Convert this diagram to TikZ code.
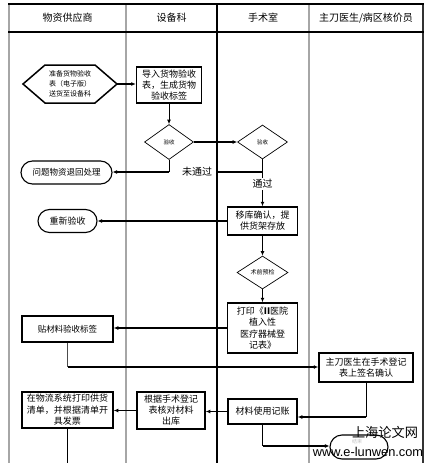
\documentclass[tikz,border=0pt]{standalone}
\usepackage{fontspec}
\setmainfont{Noto Sans CJK SC}
\newfontfamily\wmfont{Liberation Sans}
\usetikzlibrary{shapes.geometric,shapes.misc,arrows.meta,calc}
\begin{document}
\begin{tikzpicture}[x=1pt,y=-1pt,
  frame/.style={line width=1.2pt, draw=gray!70},
  box/.style={draw, line width=1.5pt, inner sep=0pt, align=center, font=\fontsize{9}{11}\selectfont},
  dia/.style={diamond, draw, line width=0.7pt, inner sep=0pt, font=\fontsize{5.5}{6}\selectfont},
  term/.style={rounded rectangle, draw, line width=1.1pt, inner sep=0pt, font=\fontsize{8.5}{10}\selectfont},
  hdr/.style={font=\fontsize{10}{12}\selectfont},
  hconn/.style={line width=1.8pt},
  vconn/.style={line width=1pt},
  tip/.style={-{Latex[length=4.5pt,width=4pt]}},
  lbl/.style={fill=white, inner sep=1pt, font=\fontsize{10}{12}\selectfont}
]
\useasboundingbox (0,0) rectangle (428,463);
% frame
\draw[frame] (9,4) -- (9,463);
\draw[frame] (126,4) -- (126,463);
\draw[line width=1.2pt] (217,4) -- (217,463);
\draw[frame] (309,4) -- (309,463);
\draw[line width=1.2pt, draw=gray!40!black] (423,4) -- (423,463);
\draw[line width=2pt] (8,4) -- (424,4);
\draw[line width=2pt] (8,32) -- (424,32);
% headers
\node[hdr] (h1) at (67.5,18) {物资供应商};
\node[hdr] (h2) at (171.5,18) {设备科};
\node[hdr] (h3) at (263,18) {手术室};
\node[hdr] (h4) at (366,18) {主刀医生/病区核价员};
% hexagon
\draw[line width=1.5pt] (23,84) -- (45,65) -- (95,65) -- (117,84) -- (95,103) -- (45,103) -- cycle;
\node[align=center, font=\fontsize{7}{10}\selectfont] (hex) at (70,84) {准备货物验收\\表（电子版）\\送货至设备科};
\coordinate (hexE) at (117,84);
% nodes
\node[box, minimum width=65pt, minimum height=36pt] (imp) at (169,85) {导入货物验收\\表，生成货物\\验收标签};
\node[dia, minimum width=49pt, minimum height=35pt] (d1) at (169,142) {验收};
\node[dia, minimum width=50pt, minimum height=34pt] (d2) at (262.5,142) {验收};
\node[term, minimum width=91pt, minimum height=23pt] (t1) at (66.5,172.5) {问题物资退回处理};
\node[box, minimum width=70pt, minimum height=28pt] (mv) at (262.5,221) {移库确认，提\\供货架存放};
\node[term, minimum width=59pt, minimum height=23pt, font=\fontsize{9}{11}\selectfont] (t2) at (67.5,221) {重新验收};
\node[dia, minimum width=51pt, minimum height=33pt, font=\fontsize{6}{7}\selectfont] (d3) at (262.5,272.5) {术前预检};
\node[box, minimum width=70pt, minimum height=50pt, font=\fontsize{9}{11.5}\selectfont] (prn) at (262.5,328) {打印《\textbf{II}医院\\植入性\\医疗器械登\\记表》};
\node[box, minimum width=91pt, minimum height=26pt, font=\fontsize{8.5}{10}\selectfont] (lab) at (67.5,329) {贴材料验收标签};
\node[box, minimum width=94pt, minimum height=29pt] (sig) at (366,367.5) {主刀医生在手术登记\\表上签名确认};
\node[box, minimum width=69pt, minimum height=25pt] (acc) at (262.5,411.5) {材料使用记账};
\node[box, minimum width=68pt, minimum height=37pt] (chk) at (171,410.5) {根据手术登记\\表核对材料\\出库};
\node[box, minimum width=91pt, minimum height=36pt, font=\fontsize{9}{11.5}\selectfont] (inv) at (67.5,410) {在物流系统打印供货\\清单，并根据清单开\\具发票};
\node[term, minimum width=58pt, minimum height=24pt] (t3) at (359,447) {};
\node[inner sep=0pt, text=gray!50, font=\fontsize{5}{6}\selectfont] (t3txt) at (357,441.5) {结束};
% connectors
\draw[hconn,tip] (hexE) -- (hexE -| imp.west);
\draw[vconn,tip] (imp.south) -- (d1.north);
\draw[hconn,tip] (d1.east) -- (d2.west);
\coordinate (j1) at (169,172);
\draw[vconn] (d1.south) -- (j1);
\draw[hconn,tip] (j1) -- (j1 -| t1.east);
\coordinate (j2) at (262.5,172);
\coordinate (j3) at (217,172);
\draw[hconn] (j2) -- (j3);
\draw[vconn,tip] (d2.south) -- (mv.north);
\node[lbl] (nt) at (197,172) {未通过};
\node[lbl] (ok) at (262.5,184) {通过};
\draw[hconn,tip] (mv.west) -- (mv.west -| t2.east);
\draw[vconn,tip] (mv.south) -- (d3.north);
\draw[vconn,tip] (d3.south) -- (prn.north);
\draw[hconn,tip] (prn.west) -- (prn.west -| lab.east);
\coordinate (j4) at (67.5,367);
\draw[vconn, draw=gray!60!black] (lab.south) -- (j4);
\draw[hconn,tip] (j4) -- (j4 -| sig.west);
\coordinate (j5) at (366,417);
\draw[vconn] (sig.south) -- (j5);
\draw[hconn,tip] (j5) -- (j5 -| acc.east);
\draw[hconn,tip] (acc.west) -- (acc.west -| chk.east);
\draw[hconn,tip] (chk.west) -- (chk.west -| inv.east);
\coordinate (endA) at (67.5,463);
\draw[vconn] (inv.south) -- (endA);
\coordinate (j6) at (262.5,446);
\draw[vconn] (acc.south) -- (j6);
\draw[hconn,tip] (j6) -- (j6 -| t3.west);
% watermark
\node[inner sep=0pt, font=\fontsize{13.2}{14}\selectfont] (wm1) at (385,432) {上海论文网};
\node[inner sep=0pt, font=\wmfont\fontsize{12.8}{14}\selectfont] (wm2) at (368,452) {www.e-lunwen.com};
\end{tikzpicture}
\end{document}
